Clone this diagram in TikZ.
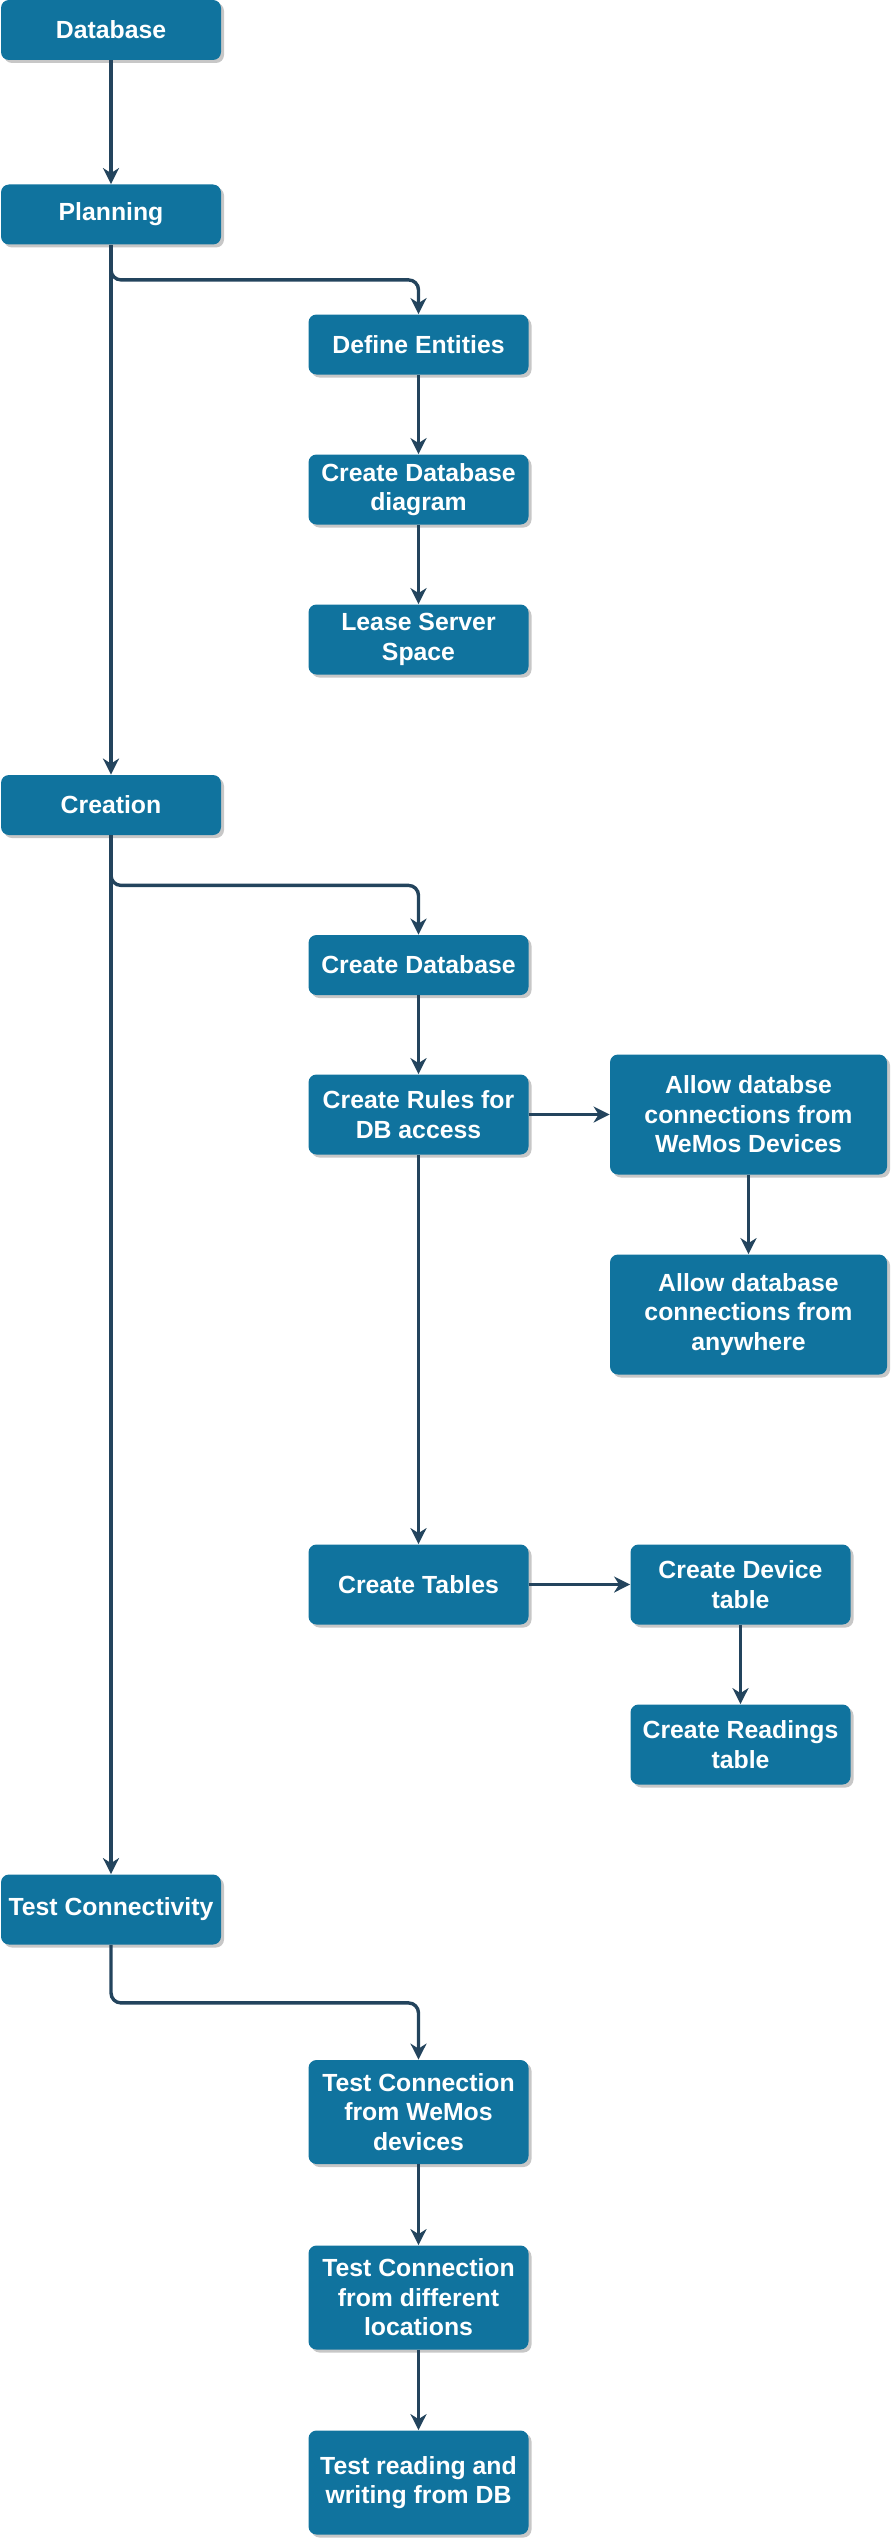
\documentclass[tikz,border=0pt]{standalone}
\usepackage{fontspec}
\setmainfont{Liberation Sans}
\usetikzlibrary{arrows.meta,shadows}
\definecolor{boxblue}{HTML}{10739E}
\definecolor{linkblue}{HTML}{23445D}
\begin{document}
\begin{tikzpicture}[x=0.5pt,y=-0.5pt,
    box/.style={fill=boxblue,rounded corners=4pt,text=white,font=\bfseries\fontsize{12.4}{14.8}\selectfont,align=center,minimum width=110pt,inner sep=2pt,drop shadow={shadow xshift=1.5pt,shadow yshift=-1.5pt,fill=black!22,opacity=1}},
    link/.style={draw=linkblue,line width=1.7pt,-{Stealth[length=8pt,width=8pt,inset=2.5pt]},rounded corners=5pt}]
            \useasboundingbox (0,0) rectangle (892,2542);
            \node[box,minimum height=30pt] (database) at (111,30) {Database};
            \node[box,minimum height=30pt] (planning) at (111,214.5) {Planning};
            \node[box,minimum height=30pt] (defent) at (418.5,344.5) {Define Entities};
            \node[box,minimum height=35pt] (dbdiagram) at (418.5,489.5) {Create Database\\diagram};
            \node[box,minimum height=35pt] (lease) at (418.5,639.5) {Lease Server\\Space};
            \node[box,minimum height=30pt] (creation) at (111,805) {Creation};
            \node[box,minimum height=30pt] (createdb) at (418.5,965) {Create Database};
            \node[box,minimum height=40pt] (rules) at (418.5,1114.5) {Create Rules for\\DB access};
            \node[box,minimum width=138.5pt,minimum height=60pt] (allowwemos) at (748.5,1114.5) {Allow databse\\connections from\\WeMos Devices};
            \node[box,minimum width=138.5pt,minimum height=60pt] (allowany) at (748.5,1314.5) {Allow database\\connections from\\anywhere};
            \node[box,minimum height=40pt] (tables) at (418.5,1584.5) {Create Tables};
            \node[box,minimum height=40pt] (devicetbl) at (740.5,1584.5) {Create Device\\table};
            \node[box,minimum height=40pt] (readingstbl) at (740.5,1744.5) {Create Readings\\table};
            \node[box,minimum height=35pt] (testconn) at (111,1909.5) {Test Connectivity};
            \node[box,minimum height=52pt] (testwemos) at (418.5,2112) {Test Connection\\from WeMos\\devices};
            \node[box,minimum height=52pt] (testloc) at (418.5,2297.5) {Test Connection\\from different\\locations};
            \node[box,minimum height=52pt] (testrw) at (418.5,2482.5) {Test reading and\\writing from DB};
            \draw[link] (database) -- (planning);
            \draw[link] (planning) -- (creation);
            \draw[link] (planning.south) -- ++(0,35) -| (defent.north);
            \draw[link] (defent) -- (dbdiagram);
            \draw[link] (dbdiagram) -- (lease);
            \draw[link] (creation) -- (testconn);
            \draw[link] (creation.south) -- ++(0,50) -| (createdb.north);
            \draw[link] (createdb) -- (rules);
            \draw[link] (rules) -- (allowwemos);
            \draw[link] (allowwemos) -- (allowany);
            \draw[link] (rules) -- (tables);
            \draw[link] (tables) -- (devicetbl);
            \draw[link] (devicetbl) -- (readingstbl);
            \draw[link] (testconn.south) -- ++(0,58) -| (testwemos.north);
            \draw[link] (testwemos) -- (testloc);
            \draw[link] (testloc) -- (testrw);
        \end{tikzpicture}
\end{document}
